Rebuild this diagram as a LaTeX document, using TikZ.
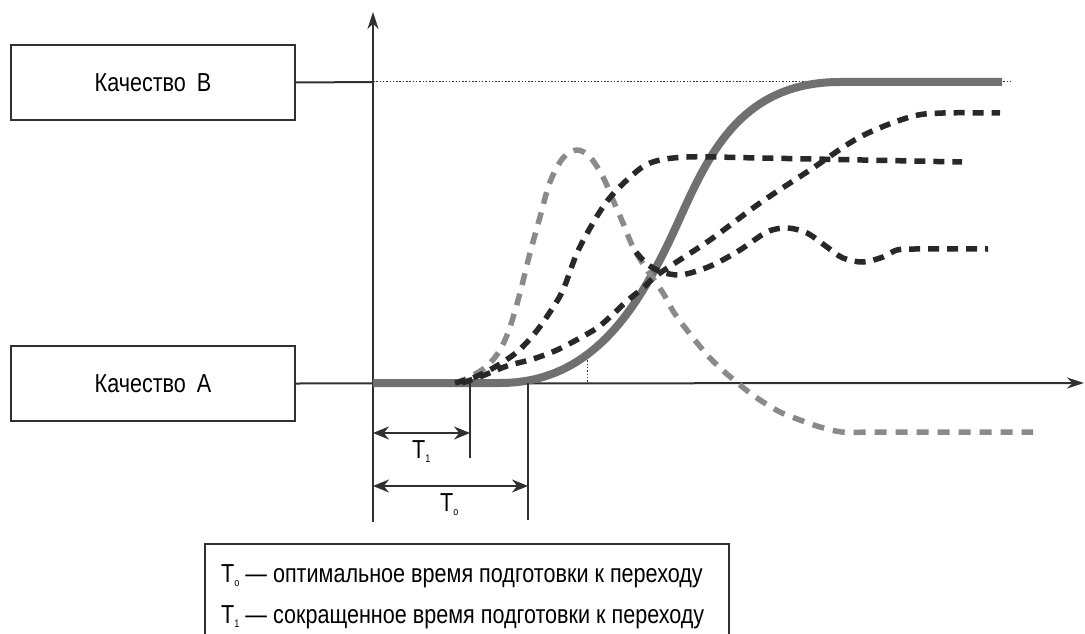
\documentclass[tikz,border=0pt]{standalone}
\usepackage{fontspec}
\setmainfont{Liberation Sans}[FakeStretch=0.83]
\usetikzlibrary{arrows.meta}
\definecolor{ink}{RGB}{48,48,48}
\definecolor{solidgray}{RGB}{112,112,112}
\definecolor{lightdash}{RGB}{138,138,138}
\definecolor{darkdash}{RGB}{40,40,40}
\newcommand\mysub[1]{\raisebox{-4pt}{\fontsize{11}{11}\selectfont #1}}
\begin{document}
\begin{tikzpicture}[x=1pt,y=-1pt,
  font=\fontsize{26}{30}\selectfont,
  axis/.style={draw=ink, line width=2pt},
  qbox/.style={draw=ink, line width=2pt, minimum width=284pt, minimum height=75pt, inner sep=0pt, fill=white},
  maincurve/.style={draw=solidgray, line width=8pt},
  lightcurve/.style={draw=lightdash, line width=5.5pt, dash pattern=on 12pt off 9pt},
  darkcurve/.style={draw=darkdash, line width=5.5pt, dash pattern=on 11pt off 8pt},
  dimarrow/.style={draw=ink, line width=2pt, {Stealth[length=16pt,width=13pt]}-{Stealth[length=16pt,width=13pt]}},
  guide/.style={draw=ink, line width=1pt, dash pattern=on 1.5pt off 1.8pt},
  labeltext/.style={anchor=base west, inner sep=0pt}
]
\useasboundingbox (0,0) rectangle (1085,634);

% key coordinates
\coordinate (O) at (373,383);
\coordinate (ytop) at (373,12);
\coordinate (ybot) at (373,522);
\coordinate (xend) at (1084,383);
\coordinate (Bline) at (373,82);
\coordinate (Bdot) at (1010,82);
\coordinate (t1top) at (470,383);
\coordinate (t1bot) at (470,458);
\coordinate (t0top) at (528,383);
\coordinate (t0bot) at (528,520);
\coordinate (t1l) at (373,433);
\coordinate (t1r) at (470,433);
\coordinate (t0l) at (373,486);
\coordinate (t0r) at (528,486);
\coordinate (g1) at (587,357);
\coordinate (g2) at (587,383);

% boxes
\node[qbox] (qb) at (153,82.5) {Качество\hspace{11pt}B};
\node[qbox] (qa) at (153,383.5) {Качество\hspace{11pt}A};

% axes
\draw[axis] (qb.east) -- (Bline);
\draw[guide] (Bline) -- (Bdot);
\draw[axis, -{Stealth[length=17pt,width=11pt]}] (ybot) -- (ytop);
\draw[axis, -{Stealth[length=17pt,width=11pt]}] (qa.east) -- (xend);
\draw[guide] (g1) -- (g2);

% main solid curve
\draw[maincurve] (O) -- (500,383)
  .. controls (585,383) and (630,320) .. (665,250)
  .. controls (700,180) and (725,82) .. (840,82)
  -- (1002,82);

% light grey dashed curve
\draw[lightcurve] plot[smooth, tension=0.55] coordinates {(455,383) (470,377) (487,366) (500,350) (510,327) (520,293) (530,253) (540,217) (550,182) (563,158) (577,150) (590,157) (603,177) (613,200) (623,223) (633,247) (647,270) (663,293) (677,317) (710,358) (740,385) (760,400) (780,412) (800,420) (820,427) (842,432) (870,432)} -- (1033,432);

% dark dashed curves
\draw[darkcurve] plot[smooth, tension=0.55] coordinates {(455,383) (475,377) (495,367) (517,352) (535,333) (550,312) (563,290) (577,253) (593,223) (608,200) (627,180) (650,163) (687,157) (760,158) (962,162)};
\draw[darkcurve] plot[smooth, tension=0.55] coordinates {(462,383) (482,376) (507,366) (533,359) (557,350) (580,338) (597,328) (610,317) (627,301) (643,288) (660,273) (710,240) (760,203) (810,170) (860,137) (910,117) (943,113) (1000,113)};
\draw[darkcurve] plot[smooth, tension=0.55] coordinates {(636,252) (647,264) (662,272) (680,275) (700,270) (717,263) (740,250) (767,232) (787,228) (807,233) (827,247) (843,258) (863,262) (883,257) (897,250) (915,249) (988,249)};

% time markers
\draw[axis] (t1top) -- (t1bot);
\draw[axis] (t0top) -- (t0bot);
\draw[dimarrow] (t1l) -- (t1r);
\draw[dimarrow] (t0l) -- (t0r);
\node[labeltext] (lt1) at (412,458) {T\mysub{1}};
\node[labeltext] (lt0) at (440,511) {T\mysub{o}};

% legend
\draw[draw=ink, line width=1.6pt] (205,636) -- (205,544) -- (729,544) -- (729,636);
\node[labeltext] (leg1) at (221,582) {T\mysub{o} — оптимальное время подготовки к переходу};
\node[labeltext] (leg2) at (221,623) {T\mysub{1} — сокращенное время подготовки к переходу};
\end{tikzpicture}
\end{document}
